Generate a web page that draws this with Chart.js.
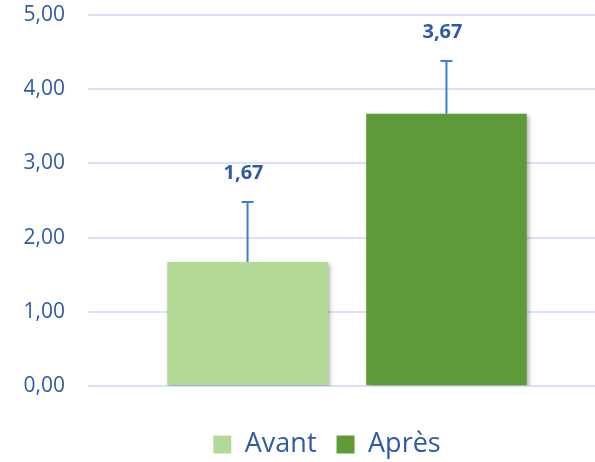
<!DOCTYPE html>
<html>
<head>
<meta charset="utf-8">
<script src="https://cdn.jsdelivr.net/npm/chart.js@4/dist/chart.umd.min.js"></script>
<style>
  html, body { margin: 0; padding: 0; background: #fff; overflow: hidden; }
  #wrap { width: 606px; height: 468px; }
</style>
</head>
<body>
<div id="wrap"><canvas id="barChart"></canvas></div>
<script>
const series = ["Avant", "Après"];
const means = [1.67, 3.67];
const errPlus = [0.81, 0.71];
const colors = ["#b3d996", "#5e9a37"];
const yMin = 0;
const yMax = 5;
const yStep = 1;

const blue = "#2f5aa6";

const fmt = (v) => Number(v).toFixed(2).replace(".", ",");

// soft drop shadow under the bars, like the office style
const barShadow = {
  id: "barShadow",
  beforeDatasetsDraw(chart) {
    const c = chart.ctx;
    c.save();
    c.shadowColor = "rgba(0, 0, 0, 0.3)";
    c.shadowBlur = 4;
    c.shadowOffsetX = 2;
    c.shadowOffsetY = 2;
  },
  afterDatasetsDraw(chart) {
    chart.ctx.restore();
  }
};

// the plot is cut on the right in the original, legend sits a bit right of centre
const legendNudge = {
  id: "legendNudge",
  afterLayout(chart) {
    chart.legend.left += 24;
    chart.legend.right += 24;
  }
};

// plus-only error bars and the value labels above them
const errorBars = {
  id: "errorBars",
  afterDatasetsDraw(chart) {
    const c = chart.ctx;
    const y = chart.scales.y;
    chart.data.datasets.forEach((ds, i) => {
      const bar = chart.getDatasetMeta(i).data[0];
      const x = bar.x;
      const top = y.getPixelForValue(means[i] + errPlus[i]);
      c.save();
      c.strokeStyle = "#3d7dd6";
      c.lineWidth = 2;
      c.beginPath();
      c.moveTo(x, bar.y);
      c.lineTo(x, top);
      c.moveTo(x - 6, top);
      c.lineTo(x + 6, top);
      c.stroke();
      c.fillStyle = blue;
      c.font = "bold 20px 'Open Sans'";
      c.textAlign = "center";
      c.textBaseline = "alphabetic";
      c.fillText(fmt(means[i]), x - 4, top - 23);
      c.restore();
    });
  }
};

const ctx = document.getElementById("barChart");

const chart = new Chart(ctx, {
  type: "bar",
  data: {
    labels: [""],
    datasets: series.map((name, i) => ({
      label: name,
      data: [means[i]],
      backgroundColor: colors[i],
      borderWidth: 0,
      categoryPercentage: 0.768,
      barPercentage: 0.807
    }))
  },
  options: {
    responsive: true,
    maintainAspectRatio: false,
    animation: false,
    layout: {
      padding: { left: 0, right: 0, top: 15, bottom: 0 }
    },
    plugins: {
      legend: {
        position: "bottom",
        labels: {
          boxWidth: 18,
          boxHeight: 18,
          padding: 20,
          color: blue,
          font: { family: "'Open Sans'", size: 27 }
        }
      },
      tooltip: { enabled: false }
    },
    scales: {
      x: {
        grid: { display: false },
        border: { display: false },
        ticks: { display: false },
        afterFit: (s) => { s.height = 25; }
      },
      y: {
        min: yMin,
        max: yMax,
        afterFit: (s) => { s.width = 88; },
        ticks: {
          stepSize: yStep,
          padding: 0,
          color: blue,
          font: { family: "'Open Sans'", size: 21 },
          callback: (v) => fmt(v)
        },
        grid: {
          color: "#dae3f3",
          lineWidth: 2,
          drawTicks: true,
          tickLength: 23,
          tickColor: "rgba(0, 0, 0, 0)"
        },
        border: { display: false }
      }
    }
  },
  plugins: [barShadow, legendNudge, errorBars]
});
</script>
</body>
</html>
